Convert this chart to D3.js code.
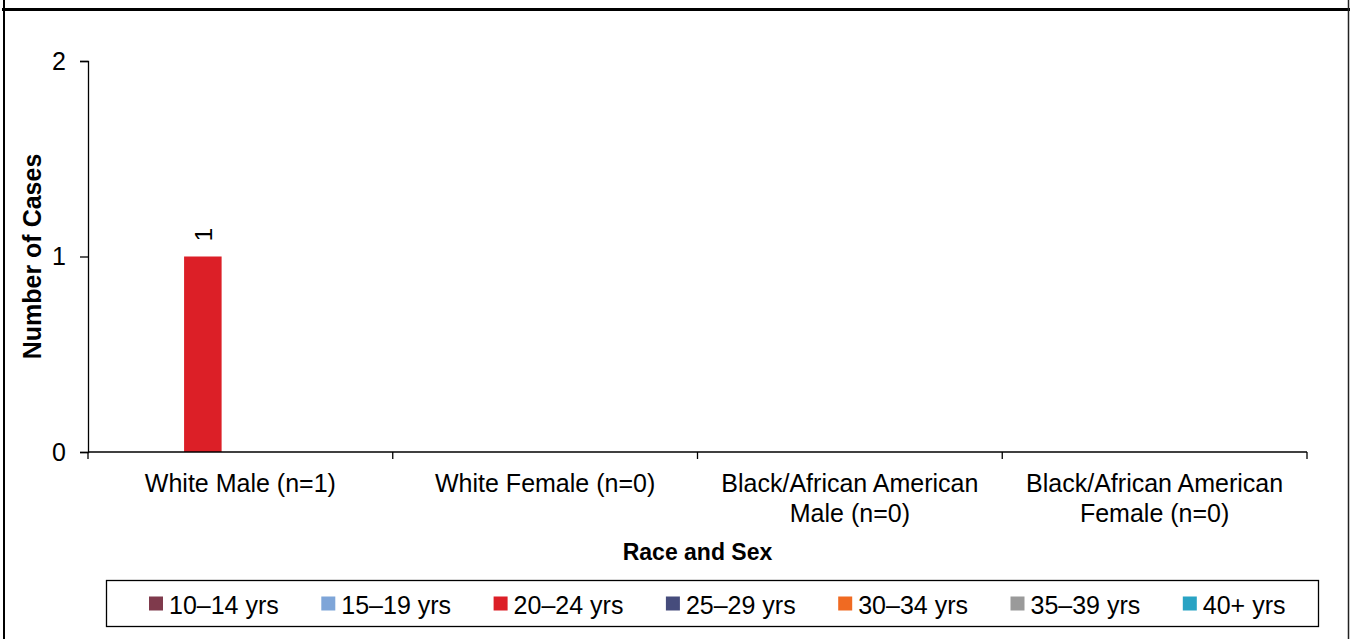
<!DOCTYPE html>
<html>
<head>
<meta charset="utf-8">
<script src="https://cdn.jsdelivr.net/npm/d3@7"></script>
<style>
  html, body { margin: 0; padding: 0; background: #fff; }
  svg { display: block; font-family: "Liberation Sans", Arial, sans-serif; }
</style>
</head>
<body>
<svg id="chart" width="1351" height="639"></svg>
<script>
// ---- data ----
const categories = ["White Male (n=1)", "White Female (n=0)", "Black/African American Male (n=0)", "Black/African American Female (n=0)"];
const categoryLines = [["White Male (n=1)"], ["White Female (n=0)"], ["Black/African American", "Male (n=0)"], ["Black/African American", "Female (n=0)"]];
const seriesNames = ["10–14 yrs", "15–19 yrs", "20–24 yrs", "25–29 yrs", "30–34 yrs", "35–39 yrs", "40+ yrs"];
const seriesColors = ["#7f3a4c", "#7ea5d8", "#dc1f27", "#464c7c", "#f06a22", "#9a9a9a", "#29a3c4"];
const v10_14 = [0, 0, 0, 0];
const v15_19 = [0, 0, 0, 0];
const v20_24 = [1, 0, 0, 0];
const v25_29 = [0, 0, 0, 0];
const v30_34 = [0, 0, 0, 0];
const v35_39 = [0, 0, 0, 0];
const v40plus = [0, 0, 0, 0];
const yTicks = [0, 1, 2];
const yTitle = "Number of Cases";
const xTitle = "Race and Sex";

const seriesValues = [v10_14, v15_19, v20_24, v25_29, v30_34, v35_39, v40plus];

// ---- layout ----
const svg = d3.select("#chart");
const W = 1351, H = 639;
const plot = { left: 88, right: 1307, top: 61, bottom: 452 };
const FONT = 25;

// outer frame
svg.append("line").attr("x1", 2).attr("x2", 1350).attr("y1", 9.5).attr("y2", 9.5)
  .attr("stroke", "#000").attr("stroke-width", 3);
svg.append("line").attr("x1", 4).attr("x2", 4).attr("y1", 0).attr("y2", H)
  .attr("stroke", "#000").attr("stroke-width", 2);
svg.append("line").attr("x1", 1348.5).attr("x2", 1348.5).attr("y1", 0).attr("y2", H)
  .attr("stroke", "#222").attr("stroke-width", 1.5);

const x0 = d3.scaleBand().domain(categories).range([plot.left, plot.right]).paddingInner(0).paddingOuter(0);
const x1 = d3.scaleBand().domain(seriesNames).range([0, x0.bandwidth()]).paddingInner(0).paddingOuter(0.56);
const y = d3.scaleLinear().domain([0, 2]).range([plot.bottom, plot.top]);

// bars
const data = [];
categories.forEach((c, ci) => {
  seriesNames.forEach((s, si) => {
    data.push({ cat: c, series: s, color: seriesColors[si], value: seriesValues[si][ci] });
  });
});
const g = svg.append("g");
g.selectAll("rect.bar").data(data.filter(d => d.value > 0)).enter().append("rect")
  .attr("class", "bar")
  .attr("x", d => x0(d.cat) + x1(d.series))
  .attr("y", d => y(d.value))
  .attr("width", x1.bandwidth())
  .attr("height", d => y(0) - y(d.value))
  .attr("fill", d => d.color);

// value labels (rotated)
g.selectAll("text.val").data(data.filter(d => d.value > 0)).enter().append("text")
  .attr("class", "val")
  .attr("transform", d => `translate(${x0(d.cat) + x1(d.series) + x1.bandwidth() / 2 + 1},${y(d.value) - 22}) rotate(-90)`)
  .attr("text-anchor", "middle")
  .attr("dominant-baseline", "central")
  .attr("font-size", 24)
  .attr("fill", "#000")
  .text(d => d.value);

// y axis
const yAxis = d3.axisLeft(y).tickValues(yTicks).tickSize(8).tickPadding(14).tickFormat(d3.format("d"));
const yg = svg.append("g").attr("transform", `translate(${plot.left},0)`).call(yAxis);
yg.select(".domain").attr("stroke", "#000").attr("stroke-width", 1.3);
yg.selectAll(".tick line").attr("stroke", "#000").attr("stroke-width", 1.3);
yg.selectAll(".tick text").attr("font-size", FONT).attr("fill", "#000").attr("font-family", "Liberation Sans, Arial, sans-serif");

// x axis
const boundaries = categories.map(c => x0(c)).concat([plot.right]);
const xg = svg.append("g").attr("transform", `translate(0,${plot.bottom})`);
xg.append("line").attr("x1", plot.left).attr("x2", plot.right).attr("y1", 0).attr("y2", 0)
  .attr("stroke", "#000").attr("stroke-width", 1.3);
xg.selectAll("line.tk").data(boundaries).enter().append("line").attr("class", "tk")
  .attr("x1", d => d).attr("x2", d => d).attr("y1", 0).attr("y2", 7)
  .attr("stroke", "#000").attr("stroke-width", 1.3);
const xl = xg.selectAll("text.cat").data(categories).enter().append("text").attr("class", "cat")
  .attr("text-anchor", "middle").attr("font-size", FONT).attr("fill", "#000")
  .attr("transform", d => `translate(${x0(d) + x0.bandwidth() / 2},40)`);
xl.each(function(d, i) {
  const t = d3.select(this);
  categoryLines[i].forEach((ln, li) => {
    t.append("tspan").attr("x", 0).attr("y", li * 30).text(ln);
  });
});

// axis titles
svg.append("text").attr("x", (plot.left + plot.right) / 2).attr("y", 560)
  .attr("text-anchor", "middle").attr("font-size", 23).attr("font-weight", "bold").attr("fill", "#000")
  .text(xTitle);
svg.append("text").attr("transform", `translate(41,${(plot.top + plot.bottom) / 2}) rotate(-90)`)
  .attr("text-anchor", "middle").attr("font-size", 25).attr("font-weight", "bold").attr("fill", "#000")
  .text(yTitle);

// legend
const legend = svg.append("g");
const lg = { x: 106.5, y: 580.5, w: 1212, h: 46 };
legend.append("rect").attr("x", lg.x).attr("y", lg.y).attr("width", lg.w).attr("height", lg.h)
  .attr("fill", "#fff").attr("stroke", "#000").attr("stroke-width", 1.3);
const step = 172.3;
const items = legend.selectAll("g.item").data(seriesNames).enter().append("g").attr("class", "item")
  .attr("transform", (d, i) => `translate(${149 + i * step},${lg.y + lg.h / 2})`);
items.append("rect").attr("x", 0).attr("y", -7).attr("width", 14).attr("height", 14)
  .attr("fill", (d, i) => seriesColors[i]);
items.append("text").attr("x", 20).attr("y", 1).attr("dominant-baseline", "central")
  .attr("font-size", FONT).attr("fill", "#000").text(d => d);
</script>
</body>
</html>
